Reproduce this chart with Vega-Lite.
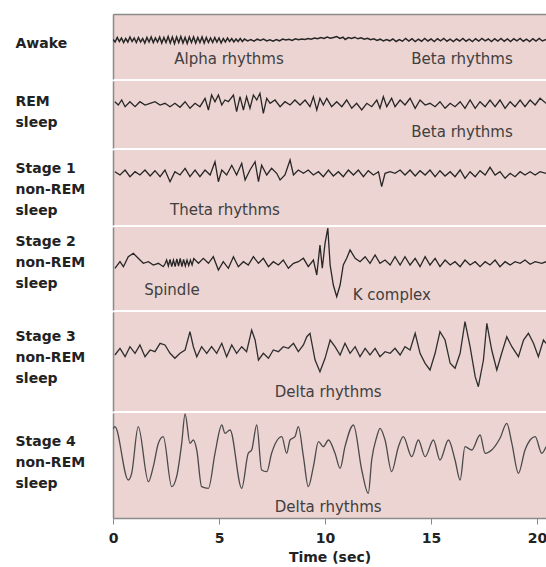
{
 "$schema": "https://vega.github.io/schema/vega-lite/v6.json",
 "background": "white",
 "padding": {"left": 15, "top": 14, "right": 0, "bottom": 0},
 "spacing": 2,
 "config": {
   "view": {"stroke": null, "fill": "#ecd4d2"},
   "font": "DejaVu Sans",
   "axis": {"grid": false}
 },
 "vconcat": [
  {
   "width": 433, "height": 65,
   "encoding": {
     "x": {"field": "t", "type": "quantitative", "scale": {"domain": [0, 20.42], "nice": false, "zero": false},
           "axis": {"orient": "top", "labels": false, "ticks": false, "title": null, "domain": true, "domainColor": "#8a8a8a", "domainWidth": 1.5}},
     "y": {"field": "v", "type": "quantitative", "scale": {"domain": [-39, 26], "nice": false, "zero": false},
           "axis": {"title": ["Awake"], "titleAngle": 0, "titleAlign": "left", "titleBaseline": "alphabetic", "titleX": -98, "titleY": 33, "titleFont": "DejaVu Sans", "titleFontSize": 14, "titleFontWeight": "bold", "titleColor": "#222", "titleLineHeight": 21, "labels": false, "ticks": false, "domain": true, "domainColor": "#8a8a8a", "domainWidth": 1.5}}
   },
   "layer": [
    {"data": {"values": [
      {"t":0,"v":0.5},{"t":0.1,"v":-2},{"t":0.2,"v":2.5},{"t":0.3,"v":-1.5},{"t":0.4,"v":2},{"t":0.5,"v":-2.5},{"t":0.6,"v":1.5},{"t":0.7,"v":-2},{"t":0.8,"v":3},{"t":0.9,"v":-1.5},
      {"t":1.0,"v":2},{"t":1.1,"v":-2.5},{"t":1.2,"v":2.5},{"t":1.3,"v":-2},{"t":1.4,"v":1.5},{"t":1.5,"v":-3},{"t":1.6,"v":2.5},{"t":1.7,"v":-2},{"t":1.8,"v":3},{"t":1.9,"v":-2.5},
      {"t":2.0,"v":2},{"t":2.1,"v":-2},{"t":2.2,"v":3},{"t":2.3,"v":-3},{"t":2.4,"v":2.5},{"t":2.5,"v":-2.5},{"t":2.6,"v":3.5},{"t":2.7,"v":-3},{"t":2.8,"v":3},{"t":2.9,"v":-3.5},
      {"t":3.0,"v":3},{"t":3.1,"v":-2.5},{"t":3.2,"v":3.5},{"t":3.3,"v":-3},{"t":3.4,"v":2.5},{"t":3.5,"v":-3.5},{"t":3.6,"v":3},{"t":3.7,"v":-2.5},{"t":3.8,"v":3},{"t":3.9,"v":-3},
      {"t":4.0,"v":2.5},{"t":4.1,"v":-2.5},{"t":4.2,"v":3},{"t":4.3,"v":-3},{"t":4.4,"v":2.5},{"t":4.5,"v":-2.5},{"t":4.6,"v":2},{"t":4.7,"v":-2.5},{"t":4.8,"v":2.5},{"t":4.9,"v":-2},
      {"t":5.0,"v":2},{"t":5.1,"v":-3},{"t":5.2,"v":1.5},{"t":5.3,"v":-2},{"t":5.4,"v":2},{"t":5.5,"v":-1.5},{"t":5.6,"v":1.5},{"t":5.7,"v":-2},{"t":5.8,"v":1},{"t":5.9,"v":-1.5},
      {"t":6.0,"v":1.5},{"t":6.1,"v":-1.5},{"t":6.2,"v":1},{"t":6.35,"v":-1},{"t":6.5,"v":0.5},{"t":6.65,"v":-1.2},{"t":6.8,"v":0.8},{"t":6.95,"v":-0.5},{"t":7.1,"v":1},{"t":7.25,"v":-1},
      {"t":7.4,"v":0.3},{"t":7.55,"v":-1.2},{"t":7.7,"v":0.5},{"t":7.85,"v":-0.8},{"t":8.0,"v":1},{"t":8.15,"v":0},{"t":8.3,"v":0.8},{"t":8.45,"v":-0.5},{"t":8.6,"v":1.2},{"t":8.75,"v":0.2},
      {"t":8.9,"v":1},{"t":9.05,"v":0.5},{"t":9.2,"v":1.5},{"t":9.35,"v":0.8},{"t":9.5,"v":2},{"t":9.65,"v":1.2},{"t":9.8,"v":2.5},{"t":9.95,"v":1.5},{"t":10.1,"v":3},{"t":10.25,"v":1.8},
      {"t":10.4,"v":2.5},{"t":10.55,"v":3.5},{"t":10.7,"v":1.5},{"t":10.85,"v":2.8},{"t":10.95,"v":0.5},{"t":11.1,"v":2.5},{"t":11.25,"v":1.5},{"t":11.4,"v":2.8},{"t":11.55,"v":1.2},{"t":11.7,"v":2.3},
      {"t":11.85,"v":0.8},{"t":12.0,"v":1.8},{"t":12.15,"v":0.3},{"t":12.3,"v":1.2},{"t":12.45,"v":-0.5},{"t":12.6,"v":0.8},{"t":12.75,"v":-1},{"t":12.9,"v":0.5},{"t":13.05,"v":-0.8},{"t":13.2,"v":1},
      {"t":13.35,"v":-1.5},{"t":13.5,"v":0.5},{"t":13.65,"v":-1.2},{"t":13.8,"v":1.5},{"t":13.95,"v":-1},{"t":14.1,"v":1.2},{"t":14.25,"v":-1.5},{"t":14.4,"v":0.8},{"t":14.55,"v":-1.2},{"t":14.7,"v":1.5},
      {"t":14.85,"v":-1},{"t":15.0,"v":1},{"t":15.15,"v":-1.5},{"t":15.3,"v":1.2},{"t":15.45,"v":-0.8},{"t":15.6,"v":1.5},{"t":15.75,"v":-1.2},{"t":15.9,"v":0.8},{"t":16.05,"v":-1.5},{"t":16.2,"v":1},
      {"t":16.35,"v":-1},{"t":16.5,"v":1.5},{"t":16.65,"v":-1.2},{"t":16.8,"v":0.8},{"t":16.95,"v":-1.5},{"t":17.1,"v":1.2},{"t":17.25,"v":-1},{"t":17.4,"v":1.5},{"t":17.55,"v":-0.8},{"t":17.7,"v":1},
      {"t":17.85,"v":-1.5},{"t":18.0,"v":1.2},{"t":18.15,"v":-1},{"t":18.3,"v":1.5},{"t":18.45,"v":-1.2},{"t":18.6,"v":1},{"t":18.75,"v":-1.5},{"t":18.9,"v":1.2},{"t":19.05,"v":-0.8},{"t":19.2,"v":1.5},
      {"t":19.35,"v":-1.2},{"t":19.5,"v":0.8},{"t":19.65,"v":-1.5},{"t":19.8,"v":1.2},{"t":19.95,"v":-1},{"t":20.1,"v":1.5},{"t":20.25,"v":-1},{"t":20.42,"v":0.5}
     ]},
     "mark": {"type": "line", "color": "#262626", "strokeWidth": 1.5, "clip": true}},
    {"data": {"values": [
      {"t": 5.47, "v": -19, "label": "Alpha rhythms"},
      {"t": 16.46, "v": -19, "label": "Beta rhythms"}
     ]},
     "mark": {"type": "text", "font": "DejaVu Sans", "fontSize": 15, "color": "#404040", "baseline": "middle"},
     "encoding": {"text": {"field": "label"}}}
   ]
  },
  {
   "width": 433, "height": 67,
   "encoding": {
     "x": {"field": "t", "type": "quantitative", "scale": {"domain": [0, 20.42], "nice": false, "zero": false}, "axis": null},
     "y": {"field": "v", "type": "quantitative", "scale": {"domain": [-45, 22], "nice": false, "zero": false},
           "axis": {"title": ["REM", "sleep"], "titleAngle": 0, "titleAlign": "left", "titleBaseline": "alphabetic", "titleX": -98, "titleY": 24, "titleFont": "DejaVu Sans", "titleFontSize": 14, "titleFontWeight": "bold", "titleColor": "#222", "titleLineHeight": 21, "labels": false, "ticks": false, "domain": true, "domainColor": "#8a8a8a", "domainWidth": 1.5}}
   },
   "layer": [
    {"data": {"values": [
      {"t":0.09,"v":1.3},{"t":0.25,"v":-2},{"t":0.41,"v":3},{"t":0.57,"v":-3.7},{"t":0.80,"v":1.3},{"t":1.04,"v":-3.7},{"t":1.27,"v":1.3},{"t":1.51,"v":-2},{"t":1.75,"v":-0.3},{"t":1.98,"v":1.3},
      {"t":2.22,"v":-2},{"t":2.45,"v":-0.3},{"t":2.69,"v":-3.7},{"t":2.92,"v":-0.3},{"t":3.16,"v":-4.3},{"t":3.40,"v":1.3},{"t":3.63,"v":-5.3},{"t":3.87,"v":-0.3},{"t":4.10,"v":-3.7},{"t":4.34,"v":4.7},
      {"t":4.50,"v":-7},{"t":4.65,"v":8},{"t":4.81,"v":1.3},{"t":4.97,"v":8},{"t":5.13,"v":-2},{"t":5.28,"v":3},{"t":5.44,"v":1.3},{"t":5.68,"v":8},{"t":5.83,"v":-8.7},{"t":5.99,"v":6.3},
      {"t":6.15,"v":-7},{"t":6.30,"v":6.3},{"t":6.46,"v":-5.3},{"t":6.62,"v":8},{"t":6.78,"v":3},{"t":6.93,"v":9.7},{"t":7.09,"v":-10.3},{"t":7.25,"v":4.7},{"t":7.41,"v":-0.3},{"t":7.64,"v":3},
      {"t":7.88,"v":-3.7},{"t":8.11,"v":1.3},{"t":8.35,"v":-2},{"t":8.58,"v":3},{"t":8.82,"v":-2},{"t":9.06,"v":3},{"t":9.29,"v":-3.7},{"t":9.45,"v":6.3},{"t":9.61,"v":-7},{"t":9.76,"v":4.7},
      {"t":9.92,"v":-2},{"t":10.08,"v":4.7},{"t":10.31,"v":-3.7},{"t":10.55,"v":1.3},{"t":10.79,"v":-3.7},{"t":11.02,"v":3},{"t":11.26,"v":-5.3},{"t":11.49,"v":-0.3},{"t":11.73,"v":-7},{"t":11.97,"v":-0.3},
      {"t":12.20,"v":-3.7},{"t":12.44,"v":3},{"t":12.59,"v":-5.3},{"t":12.75,"v":6.3},{"t":12.91,"v":-3.7},{"t":13.14,"v":4.7},{"t":13.30,"v":-3.7},{"t":13.54,"v":3},{"t":13.77,"v":-2},{"t":14.01,"v":4.7},
      {"t":14.25,"v":-5.3},{"t":14.48,"v":3},{"t":14.72,"v":-2},{"t":14.95,"v":-0.3},{"t":15.19,"v":-3.7},{"t":15.42,"v":1.3},{"t":15.66,"v":-5.3},{"t":15.90,"v":-0.3},{"t":16.13,"v":-3.7},{"t":16.37,"v":1.3},
      {"t":16.60,"v":-5.3},{"t":16.84,"v":3},{"t":17.08,"v":-5.3},{"t":17.31,"v":1.3},{"t":17.55,"v":-3.7},{"t":17.78,"v":3},{"t":18.02,"v":-3.7},{"t":18.25,"v":3},{"t":18.49,"v":-5.3},{"t":18.73,"v":1.3},
      {"t":18.96,"v":-3.7},{"t":19.20,"v":3},{"t":19.43,"v":-3.7},{"t":19.67,"v":3},{"t":19.91,"v":-2},{"t":20.14,"v":4.7},{"t":20.42,"v":-0.3}
     ]},
     "mark": {"type": "line", "color": "#262626", "strokeWidth": 1.3, "clip": true}},
    {"data": {"values": [
      {"t": 16.46, "v": -29, "label": "Beta rhythms"}
     ]},
     "mark": {"type": "text", "font": "DejaVu Sans", "fontSize": 15, "color": "#404040", "baseline": "middle"},
     "encoding": {"text": {"field": "label"}}}
   ]
  },
  {
   "width": 433, "height": 75,
   "encoding": {
     "x": {"field": "t", "type": "quantitative", "scale": {"domain": [0, 20.42], "nice": false, "zero": false}, "axis": null},
     "y": {"field": "v", "type": "quantitative", "scale": {"domain": [-52, 23], "nice": false, "zero": false},
           "axis": {"title": ["Stage 1", "non-REM", "sleep"], "titleAngle": 0, "titleAlign": "left", "titleBaseline": "alphabetic", "titleX": -98, "titleY": 22, "titleFont": "DejaVu Sans", "titleFontSize": 14, "titleFontWeight": "bold", "titleColor": "#222", "titleLineHeight": 21, "labels": false, "ticks": false, "domain": true, "domainColor": "#8a8a8a", "domainWidth": 1.5}}
   },
   "layer": [
    {"data": {"values": [
      {"t":0.09,"v":1.3},{"t":0.33,"v":-2},{"t":0.57,"v":3},{"t":0.80,"v":-3.7},{"t":1.04,"v":1.3},{"t":1.27,"v":-2},{"t":1.51,"v":3},{"t":1.75,"v":-3},{"t":1.98,"v":2.3},{"t":2.22,"v":-3.7},
      {"t":2.45,"v":3},{"t":2.69,"v":-8.7},{"t":2.92,"v":1.3},{"t":3.16,"v":-2},{"t":3.40,"v":4.7},{"t":3.63,"v":-3.7},{"t":3.87,"v":3},{"t":4.10,"v":-3.7},{"t":4.34,"v":3},{"t":4.58,"v":-2},
      {"t":4.81,"v":11.3},{"t":4.97,"v":-8.7},{"t":5.13,"v":3},{"t":5.36,"v":-2},{"t":5.60,"v":7.7},{"t":5.83,"v":-2},{"t":6.07,"v":9.7},{"t":6.23,"v":-7},{"t":6.46,"v":3},{"t":6.70,"v":11.3},
      {"t":6.86,"v":-8.7},{"t":7.01,"v":7.7},{"t":7.25,"v":-2},{"t":7.48,"v":4.7},{"t":7.72,"v":-0.3},{"t":7.88,"v":-7},{"t":8.11,"v":-2},{"t":8.35,"v":13},{"t":8.51,"v":-2},{"t":8.74,"v":3},
      {"t":8.98,"v":-0.3},{"t":9.21,"v":3},{"t":9.45,"v":-2},{"t":9.69,"v":1.3},{"t":9.92,"v":-3.7},{"t":10.16,"v":3},{"t":10.39,"v":-3},{"t":10.63,"v":1.3},{"t":10.86,"v":-3.7},{"t":11.10,"v":3},
      {"t":11.34,"v":-2},{"t":11.57,"v":3},{"t":11.81,"v":-3.7},{"t":12.04,"v":2.3},{"t":12.28,"v":-2},{"t":12.52,"v":1.3},{"t":12.67,"v":-13.7},{"t":12.83,"v":-0.3},{"t":13.07,"v":1.3},{"t":13.30,"v":-0.3},
      {"t":13.54,"v":3},{"t":13.77,"v":-2},{"t":14.01,"v":3},{"t":14.25,"v":-3},{"t":14.48,"v":2.3},{"t":14.72,"v":-2},{"t":14.95,"v":3},{"t":15.19,"v":-3.7},{"t":15.42,"v":2.3},{"t":15.66,"v":-3},
      {"t":15.90,"v":1.3},{"t":16.13,"v":-3.7},{"t":16.37,"v":3},{"t":16.60,"v":-5.3},{"t":16.84,"v":1.3},{"t":17.08,"v":-3.7},{"t":17.31,"v":2.3},{"t":17.55,"v":-2},{"t":17.78,"v":5.7},{"t":18.02,"v":-2},
      {"t":18.25,"v":1.3},{"t":18.49,"v":-5.3},{"t":18.73,"v":-0.3},{"t":18.96,"v":-3.7},{"t":19.20,"v":1.3},{"t":19.43,"v":-2},{"t":19.67,"v":1.3},{"t":19.91,"v":-2},{"t":20.14,"v":1.3},{"t":20.42,"v":-0.3}
     ]},
     "mark": {"type": "line", "color": "#262626", "strokeWidth": 1.3, "clip": true}},
    {"data": {"values": [
      {"t": 5.28, "v": -37, "label": "Theta rhythms"}
     ]},
     "mark": {"type": "text", "font": "DejaVu Sans", "fontSize": 15, "color": "#404040", "baseline": "middle"},
     "encoding": {"text": {"field": "label"}}}
   ]
  },
  {
   "width": 433, "height": 83,
   "encoding": {
     "x": {"field": "t", "type": "quantitative", "scale": {"domain": [0, 20.42], "nice": false, "zero": false}, "axis": null},
     "y": {"field": "v", "type": "quantitative", "scale": {"domain": [-47, 36], "nice": false, "zero": false},
           "axis": {"title": ["Stage 2", "non-REM", "sleep"], "titleAngle": 0, "titleAlign": "left", "titleBaseline": "alphabetic", "titleX": -98, "titleY": 18, "titleFont": "DejaVu Sans", "titleFontSize": 14, "titleFontWeight": "bold", "titleColor": "#222", "titleLineHeight": 21, "labels": false, "ticks": false, "domain": true, "domainColor": "#8a8a8a", "domainWidth": 1.5}}
   },
   "layer": [
    {"data": {"values": [
      {"t":0.09,"v":-5.3},{"t":0.33,"v":1.3},{"t":0.49,"v":-3.7},{"t":0.72,"v":6.3},{"t":0.96,"v":9.7},{"t":1.19,"v":4.7},{"t":1.43,"v":-0.3},{"t":1.67,"v":1.3},{"t":1.90,"v":-2},{"t":2.14,"v":-0.3},
      {"t":2.37,"v":-3.7},{"t":2.45,"v":-1},{"t":2.53,"v":3},{"t":2.61,"v":-3},{"t":2.69,"v":3.5},{"t":2.77,"v":-3.5},{"t":2.85,"v":3},{"t":2.93,"v":-3.5},{"t":3.01,"v":4},{"t":3.09,"v":-3},
      {"t":3.17,"v":4.5},{"t":3.25,"v":-3.5},{"t":3.33,"v":3.5},{"t":3.41,"v":-3},{"t":3.49,"v":3},{"t":3.57,"v":-2.5},{"t":3.65,"v":3},{"t":3.73,"v":-2},{"t":3.81,"v":4.5},{"t":4.03,"v":-0.3},
      {"t":4.26,"v":4.7},{"t":4.50,"v":-0.3},{"t":4.73,"v":6.3},{"t":4.97,"v":-7},{"t":5.20,"v":1.3},{"t":5.44,"v":-5.3},{"t":5.68,"v":6.3},{"t":5.91,"v":-3.7},{"t":6.15,"v":1.3},{"t":6.38,"v":-2},
      {"t":6.62,"v":6.3},{"t":6.86,"v":-0.3},{"t":7.09,"v":4.7},{"t":7.33,"v":-3.7},{"t":7.56,"v":1.3},{"t":7.80,"v":-2},{"t":8.03,"v":3},{"t":8.27,"v":-5.3},{"t":8.51,"v":-0.3},{"t":8.74,"v":1.3},
      {"t":8.98,"v":4.7},{"t":9.21,"v":-3.7},{"t":9.45,"v":3},{"t":9.61,"v":-12},{"t":9.76,"v":18},{"t":9.87,"v":-5.3},{"t":10.00,"v":19.7},{"t":10.13,"v":35},{"t":10.24,"v":-2},{"t":10.39,"v":-22},
      {"t":10.55,"v":-33.7},{"t":10.71,"v":-22},{"t":10.86,"v":-2},{"t":11.02,"v":4.7},{"t":11.18,"v":13},{"t":11.42,"v":4.7},{"t":11.65,"v":1.3},{"t":11.89,"v":6.3},{"t":12.12,"v":-0.3},{"t":12.36,"v":8},
      {"t":12.59,"v":-0.3},{"t":12.83,"v":3},{"t":13.07,"v":-2},{"t":13.30,"v":6.3},{"t":13.54,"v":-2},{"t":13.77,"v":6.3},{"t":14.01,"v":-2},{"t":14.25,"v":4.7},{"t":14.48,"v":-3.7},{"t":14.72,"v":6.3},
      {"t":14.95,"v":-2},{"t":15.19,"v":4.7},{"t":15.42,"v":-3.7},{"t":15.66,"v":3},{"t":15.90,"v":-2},{"t":16.13,"v":1.3},{"t":16.37,"v":-3.7},{"t":16.60,"v":3},{"t":16.84,"v":-2},{"t":17.08,"v":1.3},
      {"t":17.31,"v":-3.7},{"t":17.55,"v":1.3},{"t":17.78,"v":-2},{"t":18.02,"v":3},{"t":18.25,"v":-3.7},{"t":18.49,"v":1.3},{"t":18.73,"v":-2},{"t":18.96,"v":1.3},{"t":19.20,"v":-0.3},{"t":19.43,"v":3},
      {"t":19.67,"v":-1.3},{"t":19.91,"v":1.3},{"t":20.22,"v":-0.3},{"t":20.42,"v":1.3}
     ]},
     "mark": {"type": "line", "color": "#262626", "strokeWidth": 1.3, "clip": true}},
    {"data": {"values": [
      {"t": 2.78, "v": -27, "label": "Spindle"},
      {"t": 13.15, "v": -32, "label": "K complex"}
     ]},
     "mark": {"type": "text", "font": "DejaVu Sans", "fontSize": 15, "color": "#404040", "baseline": "middle"},
     "encoding": {"text": {"field": "label"}}}
   ]
  },
  {
   "width": 433, "height": 99,
   "encoding": {
     "x": {"field": "t", "type": "quantitative", "scale": {"domain": [0, 20.42], "nice": false, "zero": false}, "axis": null},
     "y": {"field": "v", "type": "quantitative", "scale": {"domain": [-58, 41], "nice": false, "zero": false},
           "axis": {"title": ["Stage 3", "non-REM", "sleep"], "titleAngle": 0, "titleAlign": "left", "titleBaseline": "alphabetic", "titleX": -98, "titleY": 28, "titleFont": "DejaVu Sans", "titleFontSize": 14, "titleFontWeight": "bold", "titleColor": "#222", "titleLineHeight": 21, "labels": false, "ticks": false, "domain": true, "domainColor": "#8a8a8a", "domainWidth": 1.5}}
   },
   "layer": [
    {"data": {"values": [
      {"t":0.09,"v":-2},{"t":0.33,"v":4.7},{"t":0.57,"v":-3.7},{"t":0.80,"v":6.3},{"t":1.04,"v":-0.3},{"t":1.27,"v":8},{"t":1.51,"v":-3.7},{"t":1.75,"v":3},{"t":1.98,"v":1.3},{"t":2.22,"v":9.7},
      {"t":2.45,"v":8},{"t":2.69,"v":-0.3},{"t":2.92,"v":-5.3},{"t":3.16,"v":-0.3},{"t":3.40,"v":3},{"t":3.63,"v":21.3},{"t":3.79,"v":6.3},{"t":3.95,"v":-3.7},{"t":4.18,"v":6.3},{"t":4.42,"v":-0.3},
      {"t":4.65,"v":6.3},{"t":4.89,"v":-0.3},{"t":5.13,"v":9.7},{"t":5.36,"v":-3.7},{"t":5.60,"v":8},{"t":5.83,"v":-0.3},{"t":6.07,"v":6.3},{"t":6.30,"v":1.3},{"t":6.54,"v":23},{"t":6.70,"v":13},
      {"t":6.86,"v":-7},{"t":7.09,"v":-0.3},{"t":7.33,"v":-5.3},{"t":7.56,"v":3},{"t":7.80,"v":1.3},{"t":8.03,"v":6.3},{"t":8.27,"v":4.7},{"t":8.51,"v":9.7},{"t":8.74,"v":1.3},{"t":8.98,"v":8},
      {"t":9.14,"v":16.3},{"t":9.29,"v":19.7},{"t":9.53,"v":-7},{"t":9.76,"v":-18.7},{"t":10.00,"v":-5.3},{"t":10.24,"v":13},{"t":10.47,"v":6.3},{"t":10.71,"v":-2},{"t":10.94,"v":9.7},{"t":11.18,"v":-0.3},
      {"t":11.42,"v":6.3},{"t":11.65,"v":-3.7},{"t":11.89,"v":4.7},{"t":12.12,"v":-2},{"t":12.36,"v":4.7},{"t":12.59,"v":-3.7},{"t":12.83,"v":1.3},{"t":13.07,"v":-0.3},{"t":13.30,"v":4.7},{"t":13.54,"v":-2},
      {"t":13.77,"v":6.3},{"t":14.01,"v":3},{"t":14.25,"v":19.7},{"t":14.48,"v":-0.3},{"t":14.72,"v":-10.3},{"t":14.95,"v":-17},{"t":15.19,"v":-0.3},{"t":15.42,"v":21.3},{"t":15.66,"v":13},{"t":15.90,"v":-10.3},
      {"t":16.13,"v":-15.3},{"t":16.37,"v":-0.3},{"t":16.60,"v":31.3},{"t":16.84,"v":6.3},{"t":17.08,"v":-23.7},{"t":17.23,"v":-33.7},{"t":17.47,"v":-7},{"t":17.63,"v":29.7},{"t":17.86,"v":3},{"t":18.10,"v":-17},
      {"t":18.33,"v":-0.3},{"t":18.57,"v":16.3},{"t":18.81,"v":6.3},{"t":19.12,"v":-3.7},{"t":19.36,"v":13},{"t":19.59,"v":19.7},{"t":19.83,"v":9.7},{"t":20.06,"v":-3.7},{"t":20.30,"v":13},{"t":20.42,"v":9.7}
     ]},
     "mark": {"type": "line", "color": "#2e2e2e", "strokeWidth": 1.3, "clip": true}},
    {"data": {"values": [
      {"t": 10.15, "v": -39, "label": "Delta rhythms"}
     ]},
     "mark": {"type": "text", "font": "DejaVu Sans", "fontSize": 15, "color": "#404040", "baseline": "middle"},
     "encoding": {"text": {"field": "label"}}}
   ]
  },
  {
   "width": 433, "height": 105,
   "encoding": {
     "x": {"field": "t", "type": "quantitative", "scale": {"domain": [0, 20.42], "nice": false, "zero": false},
           "axis": {"orient": "bottom", "values": [0, 5, 10, 15, 20], "title": "Time (sec)", "titleFont": "DejaVu Sans", "titleFontSize": 14, "titleFontWeight": "bold", "titleColor": "#222", "titlePadding": 5,
                    "labelFont": "DejaVu Sans", "labelFontSize": 14, "labelFontWeight": "bold", "labelColor": "#222", "labelPadding": 7, "labelFlush": false, "tickSize": 6, "tickColor": "#888", "domainColor": "#8a8a8a", "domainWidth": 1.5}},
     "y": {"field": "v", "type": "quantitative", "scale": {"domain": [-63, 42], "nice": false, "zero": false},
           "axis": {"title": ["Stage 4", "non-REM", "sleep"], "titleAngle": 0, "titleAlign": "left", "titleBaseline": "alphabetic", "titleX": -98, "titleY": 32, "titleFont": "DejaVu Sans", "titleFontSize": 14, "titleFontWeight": "bold", "titleColor": "#222", "titleLineHeight": 21, "labels": false, "ticks": false, "domain": true, "domainColor": "#8a8a8a", "domainWidth": 1.5}}
   },
   "layer": [
    {"data": {"values": [
      {"t":0.0,"v":26},{"t":0.09,"v":28.3},{"t":0.72,"v":-25},{"t":0.88,"v":-18.3},{"t":1.19,"v":28.3},{"t":1.67,"v":-26.7},{"t":1.90,"v":-11.7},{"t":2.14,"v":11.7},{"t":2.37,"v":18.3},{"t":2.77,"v":-31.7},
      {"t":3.00,"v":-21.7},{"t":3.24,"v":11.7},{"t":3.40,"v":41},{"t":3.63,"v":11.7},{"t":3.79,"v":15},{"t":3.95,"v":5},{"t":4.18,"v":-31.7},{"t":4.50,"v":-33.3},{"t":4.81,"v":1.7},{"t":5.13,"v":30},
      {"t":5.28,"v":21.7},{"t":5.52,"v":25},{"t":6.07,"v":-33.3},{"t":6.38,"v":1.7},{"t":6.54,"v":5},{"t":6.78,"v":30},{"t":7.01,"v":-15},{"t":7.25,"v":-16.7},{"t":7.48,"v":1.7},{"t":7.96,"v":18.3},
      {"t":8.19,"v":1.7},{"t":8.35,"v":15},{"t":8.58,"v":18.3},{"t":8.74,"v":28.3},{"t":8.98,"v":-1.7},{"t":9.21,"v":-31.7},{"t":9.45,"v":-11.7},{"t":9.69,"v":13.3},{"t":9.92,"v":8.3},{"t":10.16,"v":15},
      {"t":10.47,"v":1.7},{"t":10.71,"v":-13.3},{"t":10.94,"v":8.3},{"t":11.34,"v":30},{"t":11.73,"v":-15},{"t":12.04,"v":-38.3},{"t":12.20,"v":-5},{"t":12.44,"v":18.3},{"t":12.59,"v":26.7},{"t":12.83,"v":15},
      {"t":13.14,"v":-16.7},{"t":13.46,"v":8.3},{"t":13.69,"v":18.3},{"t":14.09,"v":-1.7},{"t":14.40,"v":15},{"t":14.72,"v":-1.7},{"t":15.11,"v":15},{"t":15.42,"v":-5},{"t":15.82,"v":15},{"t":16.13,"v":-5},
      {"t":16.37,"v":-25},{"t":16.60,"v":8.3},{"t":16.92,"v":5},{"t":17.31,"v":20},{"t":17.55,"v":1.7},{"t":17.86,"v":5},{"t":18.25,"v":16.7},{"t":18.57,"v":31.7},{"t":18.81,"v":11.7},{"t":19.12,"v":-18.3},
      {"t":19.43,"v":5},{"t":19.67,"v":15},{"t":19.91,"v":18.3},{"t":20.22,"v":1.7},{"t":20.42,"v":8.3}
     ]},
     "mark": {"type": "line", "color": "#4a4a4a", "strokeWidth": 1.3, "clip": true, "interpolate": "monotone"}},
    {"data": {"values": [
      {"t": 10.15, "v": -52, "label": "Delta rhythms"}
     ]},
     "mark": {"type": "text", "font": "DejaVu Sans", "fontSize": 15, "color": "#404040", "baseline": "middle"},
     "encoding": {"text": {"field": "label"}}}
   ]
  }
 ]
}
